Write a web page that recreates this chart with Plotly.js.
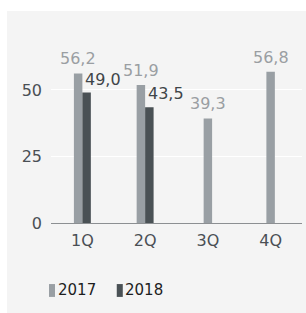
<!DOCTYPE html>
<html>
<head>
<meta charset="utf-8">
<script src="https://cdn.plot.ly/plotly-3.0.1.min.js"></script>
<style>
  html, body { margin: 0; padding: 0; background: #ffffff; }
  #chart { position: absolute; left: 7px; top: 11px; width: 299px; height: 302px; }
</style>
</head>
<body>
<div id="chart"></div>
<script>
// ---- data ----
const categories = ["1Q", "2Q", "3Q", "4Q"];
const seriesNames = ["2017", "2018"];
const values2017 = [56.2, 51.9, 39.3, 56.8];
const values2018 = [49.0, 43.5, null, null];
const yTickVals = [0, 25, 50];

// ---- style ----
const FONT = "DejaVu Sans";
const C2017 = "#999fa4";
const C2018 = "#4a5155";
const W = 0.135; // bar width in category units

const fmt = v => v.toFixed(1).replace(".", ",");
const has2018 = values2018.map(v => v !== null && v !== undefined);

const trace2017 = {
  type: "bar", name: seriesNames[0], x: categories, y: values2017,
  marker: { color: C2017 }, width: W,
  offset: has2018.map(h => h ? -W : -W / 2),
  hoverinfo: "skip", showlegend: false
};
const trace2018 = {
  type: "bar", name: seriesNames[1], x: categories, y: values2018,
  marker: { color: C2018 }, width: W, offset: 0,
  hoverinfo: "skip", showlegend: false
};

const annotations = [];
categories.forEach((c, i) => {
  annotations.push({
    x: c, y: values2017[i], xref: "x", yref: "y",
    text: fmt(values2017[i]), showarrow: false,
    xanchor: "center", yanchor: "bottom",
    xshift: has2018[i] ? -4.2 : 0, yshift: 3,
    font: { family: FONT, size: 16, color: "#9a9ea2" }
  });
  if (has2018[i]) {
    annotations.push({
      x: c, y: values2018[i], xref: "x", yref: "y",
      text: fmt(values2018[i]), showarrow: false,
      xanchor: "left", yanchor: "bottom",
      xshift: 1, yshift: 2,
      font: { family: FONT, size: 16, color: "#3f4549" }
    });
  }
});

// custom legend (swatches + labels), built from series names
const legendColors = [C2017, C2018];
const legendX = [-0.008, 0.262];
const shapes = [];
seriesNames.forEach((n, i) => {
  shapes.push({
    type: "rect", xref: "paper", yref: "paper",
    x0: legendX[i], x1: legendX[i] + 0.024, y0: -0.448, y1: -0.370,
    fillcolor: legendColors[i], line: { width: 0 }
  });
  annotations.push({
    x: legendX[i] + 0.026, y: -0.409, xref: "paper", yref: "paper",
    text: n, showarrow: false, xanchor: "left", yanchor: "middle",
    font: { family: FONT, size: 15, color: "#1e1e1e" }
  });
});

const layout = {
  width: 299, height: 302,
  margin: { l: 44, r: 4, t: 47, b: 90 },
  paper_bgcolor: "#f4f4f4", plot_bgcolor: "#f4f4f4",
  barmode: "overlay",
  showlegend: false,
  hovermode: false,
  xaxis: {
    type: "category", showgrid: false, zeroline: false, showline: false,
    ticks: "", ticklabelstandoff: 6,
    tickfont: { family: FONT, size: 16, color: "#4a4f54" }
  },
  yaxis: {
    range: [0, 62], tickvals: yTickVals, ticktext: yTickVals.map(String),
    showgrid: true, gridcolor: "#ffffff", gridwidth: 1,
    zeroline: true, zerolinecolor: "#8c8f92", zerolinewidth: 1,
    showline: false, ticks: "", ticklabelstandoff: 8,
    tickfont: { family: FONT, size: 16, color: "#4a4f54" }
  },
  annotations: annotations,
  shapes: shapes
};

Plotly.newPlot("chart", [trace2017, trace2018], layout, { displayModeBar: false, staticPlot: true });
</script>
</body>
</html>
